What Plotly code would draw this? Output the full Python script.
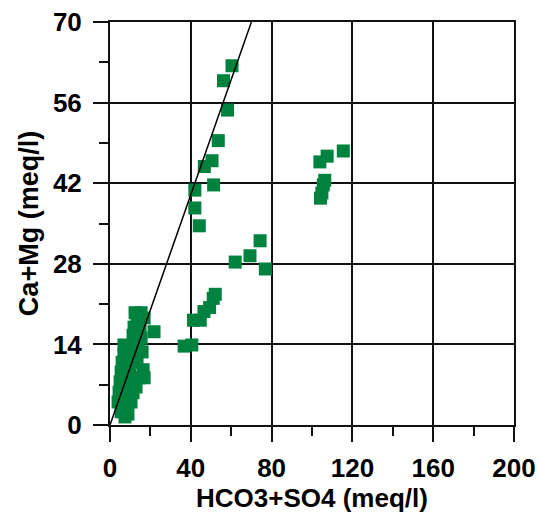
import plotly.graph_objects as go

# HCO3+SO4 (meq/l) and Ca+Mg (meq/l) sample values
hco3_so4 = [
    # low cluster
    12.4, 15.4, 13.4, 16.9, 11.9, 14.9, 11.4, 15.4, 21.8,
    6.9, 9.9, 13.9, 6.9, 11.4, 15.9, 6.0, 8.9, 13.4, 16.4,
    5.5, 9.9, 14.4, 16.9, 5.0, 8.9, 12.9, 4.5, 8.4, 11.4,
    4.0, 7.9, 10.4, 5.5, 8.9, 7.4,
    # upper group along the 1:1 line
    60.4, 56.2, 58.2, 53.6, 50.5, 46.7, 51.3, 42.0, 42.0, 44.2,
    # middle group
    74.3, 69.3, 62.0, 76.9, 52.1, 51.1, 49.3, 46.5, 41.3, 44.7, 36.7, 40.5,
    # right group
    115.5, 107.5, 103.9, 106.3, 105.6, 104.9, 104.2,
]
ca_mg = [
    19.5, 19.5, 18.2, 18.6, 17.0, 16.8, 15.6, 15.1, 16.2,
    13.9, 13.4, 13.9, 12.2, 12.0, 12.7, 10.9, 10.4, 10.9, 9.6,
    9.2, 8.7, 8.2, 8.2, 7.5, 6.9, 6.6, 5.7, 5.2, 5.6,
    4.0, 3.5, 4.0, 2.3, 1.9, 1.4,
    62.4, 59.8, 54.7, 49.4, 45.9, 44.9, 41.7, 40.8, 37.7, 34.6,
    32.0, 29.4, 28.3, 27.1, 22.7, 22.0, 20.4, 19.7, 18.2, 18.2, 13.7, 13.9,
    47.6, 46.7, 45.7, 42.5, 41.7, 40.3, 39.4,
]

# 1:1 reference line
line_x = [0, 70]
line_y = [0, 70]

x_ticks = [0, 40, 80, 120, 160, 200]
y_ticks = [0, 14, 28, 42, 56, 70]

FONT = "Liberation Sans, Arial, sans-serif"
GREEN = "#00823F"

fig = go.Figure()
fig.add_trace(go.Scatter(
    x=hco3_so4, y=ca_mg, mode="markers",
    marker=dict(symbol="square", size=13, color=GREEN, line=dict(width=0)),
    showlegend=False, cliponaxis=False,
))
fig.add_trace(go.Scatter(
    x=line_x, y=line_y, mode="lines",
    line=dict(color="black", width=1.5),
    showlegend=False,
))

axis_common = dict(
    showgrid=True, gridcolor="#111111", gridwidth=2,
    showline=True, linecolor="#111111", linewidth=2, mirror=True,
    ticks="outside", ticklen=15, tickwidth=2, tickcolor="#111111",
    zeroline=False,
    tickfont=dict(family=FONT, size=26, color="black", weight="bold"),
)

fig.update_xaxes(
    range=[0, 200], tickvals=x_ticks, ticktext=[str(v) for v in x_ticks],
    minor=dict(ticks="outside", ticklen=9, tickwidth=2, tickcolor="#111111",
               dtick=20, tick0=0, showgrid=False),
    title=dict(text="HCO3+SO4 (meq/l)", standoff=6,
               font=dict(family=FONT, size=26, color="black", weight="bold")),
    ticklabelstandoff=4,
    **axis_common,
)
fig.update_yaxes(
    range=[0, 70], tickvals=y_ticks, ticktext=[str(v) for v in y_ticks],
    minor=dict(ticks="outside", ticklen=9, tickwidth=2, tickcolor="#111111",
               dtick=7, tick0=0, showgrid=False),
    title=dict(text="Ca+Mg (meq/l)", standoff=6,
               font=dict(family=FONT, size=27, color="black", weight="bold")),
    ticklabelstandoff=6,
    **axis_common,
)

fig.update_layout(
    width=540, height=514,
    margin=dict(l=110, r=26, t=22, b=89, autoexpand=False),
    plot_bgcolor="white", paper_bgcolor="white",
)

fig.write_html("out.html")
